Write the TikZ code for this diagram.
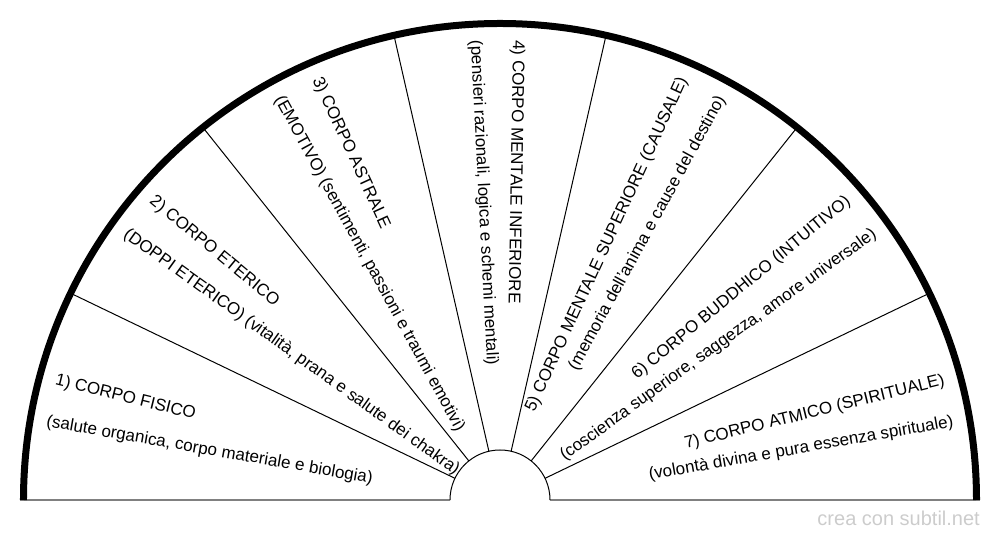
\documentclass[tikz,border=0pt]{standalone}
\usepackage{fontspec}
\setmainfont{Liberation Sans}
\usepackage{tikz}
\usetikzlibrary{positioning}

\begin{document}
\begin{tikzpicture}[x=1pt,y=1pt,
  lbl/.style={font=\fontsize{17}{20}\selectfont,inner sep=0pt,outer sep=0pt},
  rim/.style={line width=7pt},
  base/.style={draw=black!50,line width=2pt}]
\useasboundingbox (-500,-40) rectangle (500,500);
\coordinate (O) at (0,0);
\foreach \i in {1,...,6}
  \draw[line width=1pt] ({180*\i/7}:50) -- ({180*\i/7}:476.5);
\draw[base] (-480,0) -- (-50,0) (50,0) -- (480,0);
\draw[line width=1pt] (50,0) arc[start angle=0,end angle=180,radius=50];
\draw[rim] (476.5,0) arc[start angle=0,end angle=180,radius=476.5];
\foreach \a/\b[count=\k,evaluate=\k as\th using 180-(2*\k-1)*90/7] in {
  {1) CORPO FISICO}/{(salute organica, corpo materiale e biologia)},
  {2) CORPO ETERICO}/{(DOPPI ETERICO) (vitalità, prana e salute dei chakra)},
  {3) CORPO ASTRALE}/{(EMOTIVO) (sentimenti, passioni e traumi emotivi)},
  {4) CORPO MENTALE INFERIORE}/{(pensieri razionali, logica e schemi mentali)}
}
\node[lbl,anchor=west,rotate=\th-181] (l\k) at ({\th-2.2}:460) {\a}
    node[lbl,anchor=west,rotate=\th-177.1] (d\k) at ({\th+3.1}:460) {\b};
\foreach \a/\b[count=\k from 5,evaluate=\k as\th using 180-(2*\k-1)*90/7] in {
  {5) CORPO MENTALE SUPERIORE (CAUSALE)}/{(memoria dell'anima e cause del destino)},
  {6) CORPO BUDDHICO (INTUITIVO)}/{(coscienza superiore, saggezza, amore universale)},
  {7) CORPO ATMICO (SPIRITUALE)}/{(volontà divina e pura essenza spirituale)}
}
\node[lbl,anchor=east,rotate=\th+1] (l\k) at ({\th+2.2}:460) {\a}
    node[lbl,anchor=east,rotate=\th-2.9] (d\k) at ({\th-3.1}:460) {\b};
\node[font=\fontsize{20}{24}\selectfont,text=black!20,anchor=base east,inner sep=0pt] (wm) at (480,-26) {crea con subtil.net};
\end{tikzpicture}
\end{document}
